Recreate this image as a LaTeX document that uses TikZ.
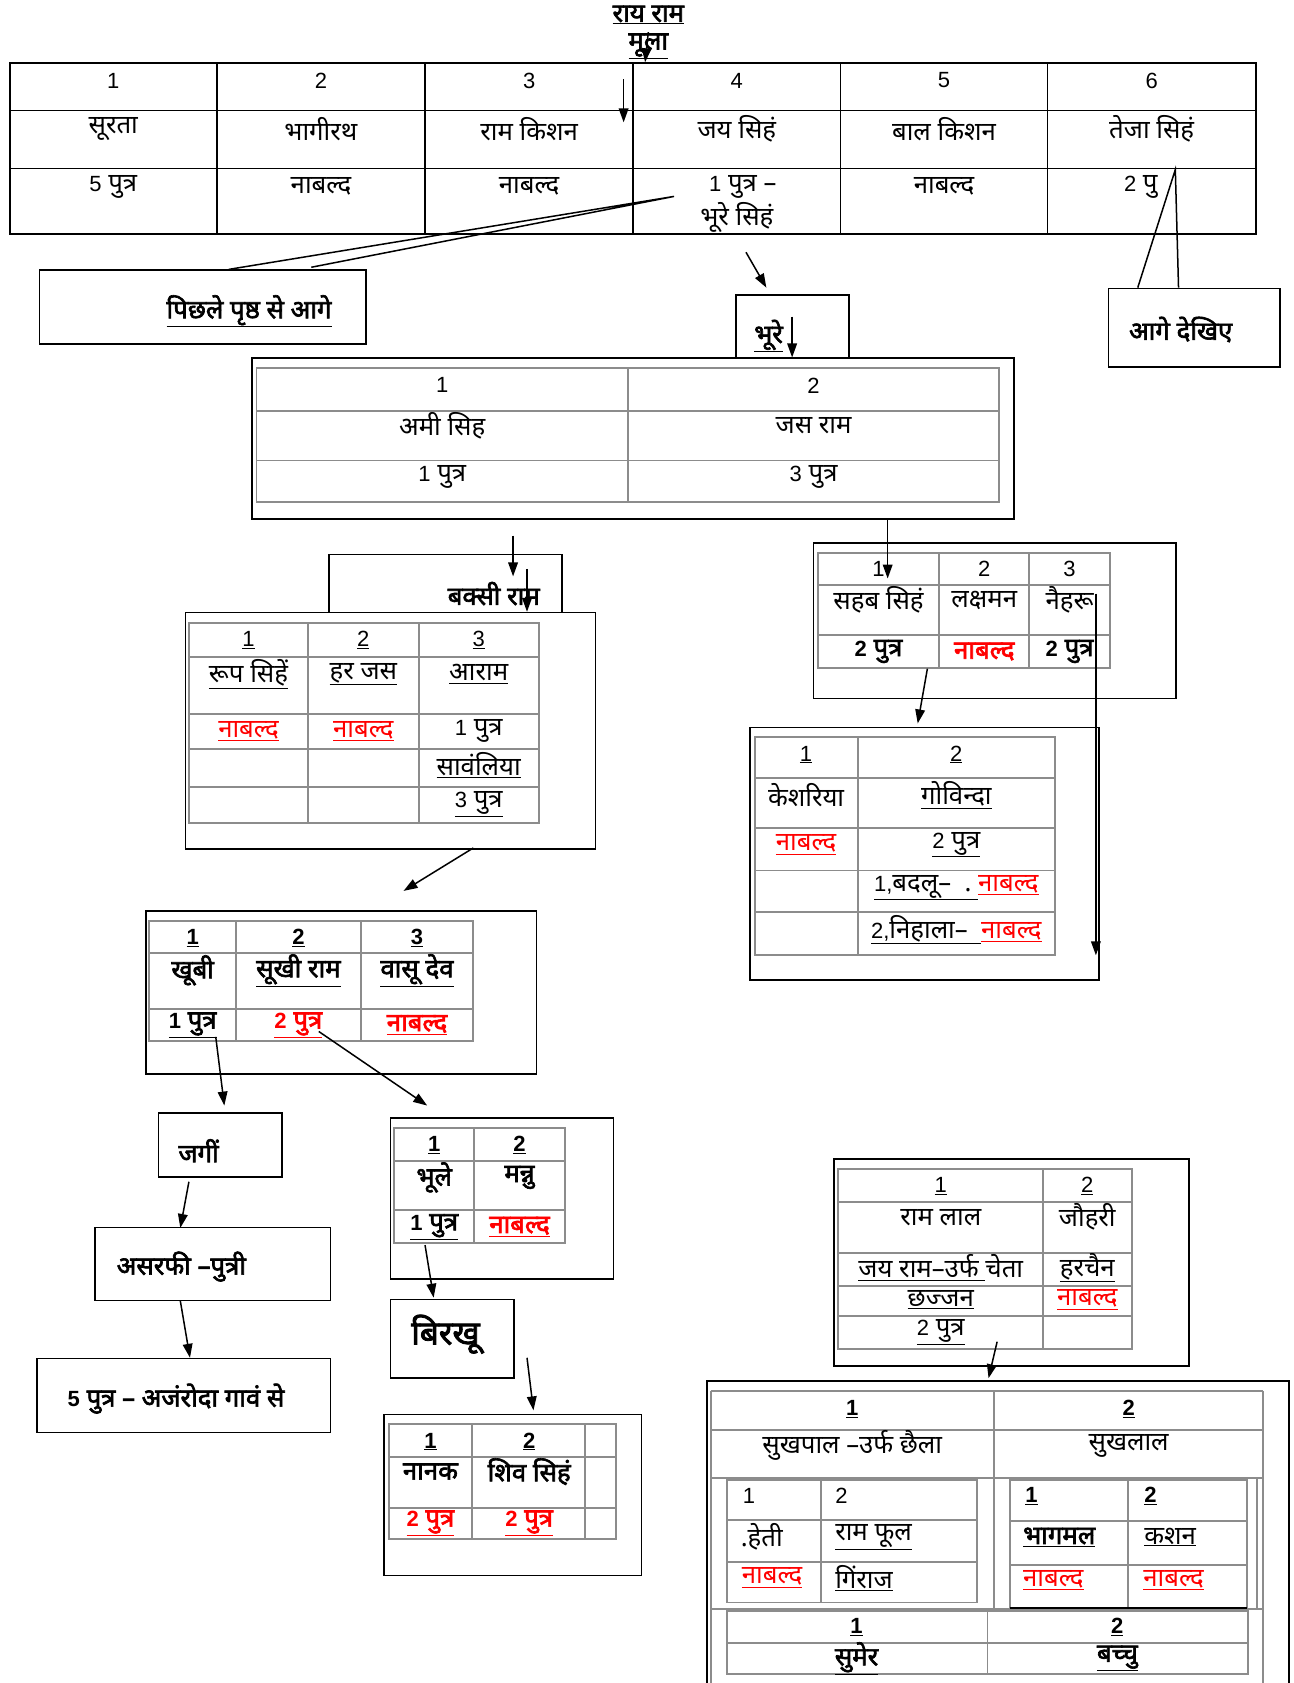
\documentclass[tikz,border=0pt]{standalone}
\usepackage{fontspec}
\setmainfont{Noto Sans}[Script=Devanagari, BoldFont={Noto Sans}, BoldFeatures={FakeBold=2.5}]
\newfontfamily\latf{Liberation Sans}
\usetikzlibrary{arrows.meta}
\newcommand\fs{\fontsize{24}{28}\selectfont}
\newcommand\D[1]{{\latf\fontsize{20.5}{24}\selectfont #1}}
\newcommand\uln[1]{\underline{#1}}
\definecolor{nred}{RGB}{255,0,0}
\begin{document}
\begin{tikzpicture}[x=1pt,y=-1pt,
  every node/.style={inner sep=0pt, font=\fs},
  obox/.style={draw, line width=1.5pt, fill=white, anchor=north west},
  tline/.style={line width=1.6pt},
  gline/.style={line width=1.8pt, draw=black!45},
  arr/.style={line width=1.4pt, -{Triangle[length=13pt,width=9pt]}},
  tl/.style={line width=1.4pt},
  red/.style={text=nred},
  b/.style={font=\fs\bfseries}
  ]
\useasboundingbox (0,0) rectangle (1205,1568);

% ---------- title ----------
\node[b] (title1) at (604,14) {\uln{राय राम}};
\node[b] (title2) at (604,43) {\uln{मूला}};
\coordinate (ta1) at (604,30);
\coordinate (ta2) at (601,58);
\draw[arr] (ta1) -- (ta2);

% ---------- top table ----------
\draw[tline] (9,59) rectangle (1170,218);
\foreach \yy in {103,157} \draw[tline] (9,\yy) -- (1170,\yy);
\foreach \xx in {202,396,590,783,976} \draw[tline] (\xx,59) -- (\xx,218);
\node (n1) at (105.5,75) {\D{1}};
\node (n2) at (299,75) {\D{2}};
\node (n3) at (493,75) {\D{3}};
\node (n4) at (686.5,75) {\D{4}};
\node (n5) at (879.5,75) {\D{5}};
\node (n6) at (1073,75) {\D{6}};
\node (m1) at (105.5,120) {सूरता};
\node (m2) at (299,120) {भागीरथ};
\node (m3) at (493,120) {राम किशन};
\node (m4) at (686.5,120) {जय सिहं};
\node (m5) at (879.5,120) {बाल किशन};
\node (m6) at (1073,120) {तेजा सिहं};
\node (r1) at (105.5,174) {\D{5} पुत्र};
\node (r2) at (299,174) {नाबल्द};
\node (r3) at (493,174) {नाबल्द};
\node (r4a) at (692,174) {\D{1} पुत्र –};
\node (r4b) at (686.5,203) {भूरे सिहं};
\node (r5) at (879.5,174) {नाबल्द};
\node[anchor=west] (r6) at (1047,174) {\D{2} पु};
\coordinate (tta1) at (581,74);
\coordinate (tta2) at (581,114);
\draw[arr] (tta1) -- (tta2);

% ---------- left callout ----------
\node[obox, minimum width=304pt, minimum height=69pt] (cl1) at (36,251) {};
\node[b] (cl1t) at (232,290) {\uln{पिछले पृष्ठ से आगे}};
\coordinate (cl1a) at (213,251);
\coordinate (cl1tip) at (628,183);
\coordinate (cl1b) at (290,249);
\draw[tl] (cl1a) -- (cl1tip) -- (cl1b);

% ---------- right callout ----------
\node[obox, minimum width=160pt, minimum height=73pt] (cl2) at (1032,268) {};
\node[b] (cl2t) at (1100,307) {आगे देखिए};
\coordinate (cl2a) at (1060,268);
\coordinate (cl2tip) at (1095,158);
\coordinate (cl2b) at (1098,268);
\draw[tl] (cl2a) -- (cl2tip) -- (cl2b);

% ---------- bhure box ----------
\coordinate (ba1) at (695,235);
\coordinate (ba2) at (714,268);
\draw[arr] (ba1) -- (ba2);
\node[obox, minimum width=105pt, minimum height=70pt] (bhure) at (685,274) {};
\node[b] (bhuret) at (716,313) {\uln{भूरे}};
\coordinate (bb1) at (738,295);
\coordinate (bb2) at (738,333);

% ---------- ami singh box ----------
\node[obox, minimum width=710pt, minimum height=150pt] (ami) at (234,333) {};
\draw[arr] (bb1) -- (bb2);
\draw[gline] (239,343) rectangle (931,468);
\foreach \yy in {383,429} \draw[gline] (239,\yy) -- (931,\yy);
\draw[gline] (585,343) -- (585,468);
\node (a11) at (412,359) {\D{1}};
\node (a12) at (758,359) {\D{2}};
\node (a21) at (412,397) {अमी सिह};
\node (a22) at (758,397) {जस राम};
\node (a31) at (412,444) {\D{1} पुत्र};
\node (a32) at (758,444) {\D{3} पुत्र};

% ---------- baksi ram ----------
\node[obox, minimum width=217pt, minimum height=70pt] (baksi) at (306,516) {};
\node[b] (baksit) at (460,553) {बक्सी राम};
\coordinate (bk1) at (478,499);
\coordinate (bk2) at (478,537);
\draw[arr] (bk1) -- (bk2);
\coordinate (bk3) at (491,530);
\coordinate (bk4) at (491,570);

% ---------- rup singh box ----------
\node[obox, minimum width=382pt, minimum height=220pt] (rup) at (172,570) {};
\draw[arr] (bk3) -- (bk4);
\draw[gline] (176,580) rectangle (502,767);
\foreach \yy in {612,665,698,733} \draw[gline] (176,\yy) -- (502,\yy);
\foreach \xx in {287,390} \draw[gline] (\xx,580) -- (\xx,767);
\node (p11) at (231.5,596) {\uln{\D{1}}};
\node (p12) at (338.5,596) {\uln{\D{2}}};
\node (p13) at (446,596) {\uln{\D{3}}};
\node (p21) at (231.5,628) {\uln{रूप सिहें}};
\node (p22) at (338.5,628) {\uln{हर जस}};
\node (p23) at (446,628) {\uln{आराम}};
\node[red] (p31) at (231.5,681) {\uln{नाबल्द}};
\node[red] (p32) at (338.5,681) {\uln{नाबल्द}};
\node (p33) at (446,681) {\D{1} पुत्र};
\node (p43) at (446,713) {\uln{सावंलिया}};
\node (p53) at (446,749) {\uln{\D{3} पुत्र}};
\coordinate (ra1) at (441,790);
\coordinate (ra2) at (376,830);
\draw[arr] (ra1) -- (ra2);

% ---------- sahab singh box ----------
\coordinate (sa1) at (827,483);
\coordinate (sa2) at (827,539);
\node[obox, minimum width=338pt, minimum height=145pt] (sahab) at (757,505) {};
\draw[gline] (762,515) rectangle (1034,622);
\foreach \yy in {545,592} \draw[gline] (762,\yy) -- (1034,\yy);
\foreach \xx in {875,959} \draw[gline] (\xx,515) -- (\xx,622);
\node (s11) at (818.5,530) {\D{1}};
\node (s12) at (917,530) {\D{2}};
\node (s13) at (996.5,530) {\D{3}};
\node (s21) at (818.5,559) {सहब सिहं};
\node (s22) at (917,559) {लक्षमन};
\node (s23) at (996.5,559) {नैहरू};
\node[b] (s31) at (818.5,607) {\D{2} पुत्र};
\node[b,red] (s32) at (917,607) {नाबल्द};
\node[b] (s33) at (996.5,607) {\D{2} पुत्र};
\draw[arr] (sa1) -- (sa2);
\coordinate (sb1) at (864,623);
\coordinate (sb2) at (855,674);
\draw[arr] (sb1) -- (sb2);

% ---------- keshariya box ----------
\node[obox, minimum width=325pt, minimum height=235pt] (kesh) at (698,677) {};
\draw[gline] (703,687) rectangle (983,890);
\foreach \yy in {725,771,811,850} \draw[gline] (703,\yy) -- (983,\yy);
\draw[gline] (799,687) -- (799,890);
\node (k11) at (751,703) {\uln{\D{1}}};
\node (k12) at (891,703) {\uln{\D{2}}};
\node (k21) at (751,741) {केशरिया};
\node (k22) at (891,741) {\uln{गोविन्दा}};
\node[red] (k31) at (751,787) {\uln{नाबल्द}};
\node (k32) at (891,787) {\uln{\D{2} पुत्र}};
\node (k42) at (891,827) {\uln{\D{1,}बदलू–\ \ .\ }\textcolor{nred}{\uln{नाबल्द}}};
\node (k52) at (891,866) {\uln{\D{2,}निहाला–\ \ }\textcolor{nred}{\uln{नाबल्द}}};
\coordinate (sc1) at (1021,553);
\coordinate (sc2) at (1021,890);
\draw[arr] (sc1) -- (sc2);

% ---------- khubi box ----------
\node[obox, minimum width=364pt, minimum height=152pt] (khubi) at (135,848) {};
\draw[gline] (139,858) rectangle (441,970);
\foreach \yy in {888,940} \draw[gline] (139,\yy) -- (441,\yy);
\foreach \xx in {220,336} \draw[gline] (\xx,858) -- (\xx,970);
\node[b] (h11) at (179.5,874) {\uln{\D{1}}};
\node[b] (h12) at (278,874) {\uln{\D{2}}};
\node[b] (h13) at (388.5,874) {\uln{\D{3}}};
\node[b] (h21) at (179.5,904) {खूबी};
\node[b] (h22) at (278,904) {\uln{सूखी राम}};
\node[b] (h23) at (388.5,904) {\uln{वासू देव}};
\node[b] (h31) at (179.5,955) {\uln{\D{1} पुत्र}};
\node[b,red] (h32) at (278,955) {\uln{\D{2} पुत्र}};
\node[b,red] (h33) at (388.5,955) {\uln{नाबल्द}};
\coordinate (ha1) at (201,966);
\coordinate (ha2) at (209,1030);
\draw[arr] (ha1) -- (ha2);
\coordinate (hb1) at (297,961);
\coordinate (hb2) at (398,1030);
\draw[arr] (hb1) -- (hb2);

% ---------- left chain ----------
\node[obox, minimum width=115pt, minimum height=60pt] (jagi) at (147,1036) {};
\node[b] (jagit) at (185,1072) {जगीं};
\coordinate (ja1) at (176,1101);
\coordinate (ja2) at (168,1144);
\draw[arr] (ja1) -- (ja2);
\node[obox, minimum width=219pt, minimum height=68pt] (asar) at (88,1143) {};
\node[b] (asart) at (169,1180) {असरफी –पुत्री};
\coordinate (as1) at (168,1212);
\coordinate (as2) at (177,1265);
\draw[arr] (as1) -- (as2);
\node[obox, minimum width=273pt, minimum height=69pt] (panch) at (34,1265) {};
\node[b] (pancht) at (164,1303) {\D{5} पुत्र – अजंरोदा गावं से};

% ---------- bhule box ----------
\node[obox, minimum width=208pt, minimum height=150pt] (bhule) at (363,1041) {};
\draw[gline] (367,1051) rectangle (526,1158);
\foreach \yy in {1082,1127} \draw[gline] (367,\yy) -- (526,\yy);
\draw[gline] (442,1051) -- (442,1158);
\node[b] (u11) at (404.5,1067) {\uln{\D{1}}};
\node[b] (u12) at (484,1067) {\uln{\D{2}}};
\node[b] (u21) at (404.5,1097) {भूले};
\node[b] (u22) at (484,1097) {मन्नु};
\node[b] (u31) at (404.5,1143) {\uln{\D{1} पुत्र}};
\node[b,red] (u32) at (484,1143) {\uln{नाबल्द}};
\coordinate (ua1) at (396,1160);
\coordinate (ua2) at (404,1209);
\draw[arr] (ua1) -- (ua2);

\node[obox, minimum width=115pt, minimum height=73pt] (birkhu) at (363,1210) {};
\node[font=\fontsize{31}{36}\selectfont\bfseries] (birkhut) at (415,1243) {बिरखू};
\coordinate (bi1) at (491,1265);
\coordinate (bi2) at (497,1314);
\draw[arr] (bi1) -- (bi2);

% ---------- nanak box ----------
\node[obox, minimum width=240pt, minimum height=150pt] (nanak) at (357,1317) {};
\draw[gline] (362,1327) rectangle (574,1434);
\foreach \yy in {1357,1405} \draw[gline] (362,\yy) -- (574,\yy);
\foreach \xx in {440,545} \draw[gline] (\xx,1327) -- (\xx,1434);
\node[b] (q11) at (401,1343) {\uln{\D{1}}};
\node[b] (q12) at (493,1343) {\uln{\D{2}}};
\node[b] (q21) at (401,1371) {नानक};
\node[b] (q22) at (493,1371) {शिव सिहं};
\node[b,red] (q31) at (401,1419) {\uln{\D{2} पुत्र}};
\node[b,red] (q32) at (493,1419) {\uln{\D{2} पुत्र}};

% ---------- ram lal box ----------
\node[obox, minimum width=331pt, minimum height=193pt] (ramlal) at (776,1079) {};
\draw[gline] (781,1089) rectangle (1055,1257);
\foreach \yy in {1120,1167,1198,1226} \draw[gline] (781,\yy) -- (1055,\yy);
\draw[gline] (972,1089) -- (972,1257);
\node (l11) at (876.5,1105) {\uln{\D{1}}};
\node (l12) at (1013,1105) {\uln{\D{2}}};
\node (l21) at (876.5,1134) {राम लाल};
\node (l22) at (1013,1134) {जौहरी};
\node (l31) at (876.5,1181) {\uln{जय राम–उर्फ }चेता};
\node (l32) at (1013,1181) {\uln{हरचैन}};
\node (l41) at (876.5,1211) {\uln{छज्जन}};
\node[red] (l42) at (1013,1211) {\uln{नाबल्द}};
\node (l51) at (876.5,1241) {\uln{\D{2} पुत्र}};
\coordinate (la1) at (929,1250);
\coordinate (la2) at (921,1284);
\draw[arr] (la1) -- (la2);

% ---------- sukhpal box ----------
\node[obox, minimum width=542pt, minimum height=300pt] (sukh) at (658,1286) {};
\draw[gline] (662,1296) -- (1177,1296);
\draw[gline] (662,1296) -- (662,1575);
\draw[gline] (1177,1296) -- (1177,1575);
\foreach \yy in {1332,1377,1499} \draw[gline] (662,\yy) -- (1177,\yy);
\draw[gline] (926,1296) -- (926,1499);
\draw[gline] (1171,1377) -- (1171,1499);
% left sub-table
\draw[gline] (677,1379) rectangle (910,1493);
\foreach \yy in {1416,1455} \draw[gline] (677,\yy) -- (910,\yy);
\draw[gline] (765,1379) -- (765,1493);
% right sub-table
\draw[gline] (941,1379) rectangle (1162,1498);
\foreach \yy in {1417,1458} \draw[gline] (941,\yy) -- (1162,\yy);
\draw[gline] (1051,1379) -- (1051,1498);
\draw[line width=1.8pt] (941,1498) -- (1162,1498);
% bottom table
\draw[gline] (677,1501) rectangle (1163,1560);
\draw[gline] (677,1531) -- (1163,1531);
\draw[gline] (920,1501) -- (920,1560);
\node[b] (v11) at (794,1313) {\uln{\D{1}}};
\node[b] (v12) at (1051.5,1313) {\uln{\D{2}}};
\node (v21) at (794,1347) {सुखपाल –उर्फ छैला};
\node (v22) at (1051.5,1347) {सुखलाल};
\node[anchor=west] (w11) at (692,1394) {\D{1}};
\node[anchor=west] (w12) at (778,1394) {\D{2}};
\node[anchor=west] (w21) at (690,1432) {.हेती};
\node[anchor=west] (w22) at (778,1432) {\uln{राम फूल}};
\node[anchor=west,red] (w31) at (691,1470) {\uln{नाबल्द}};
\node[anchor=west] (w32) at (778,1470) {\uln{गिंराज}};
\node[anchor=west,b] (x11) at (955,1394) {\uln{\D{1}}};
\node[anchor=west,b] (x12) at (1066,1394) {\uln{\D{2}}};
\node[anchor=west,b] (x21) at (953,1432) {\uln{भागमल}};
\node[anchor=west] (x22) at (1066,1432) {\uln{कशन}};
\node[anchor=west,red] (x31) at (953,1472) {\uln{नाबल्द}};
\node[anchor=west,red] (x32) at (1065,1472) {\uln{नाबल्द}};
\node[b] (y11) at (798,1516) {\uln{\D{1}}};
\node[b] (y12) at (1041,1516) {\uln{\D{2}}};
\node[b] (y21) at (798,1545) {\uln{सुमेर}};
\node[b] (y22) at (1041,1545) {\uln{बच्चु}};
\end{tikzpicture}
\end{document}
